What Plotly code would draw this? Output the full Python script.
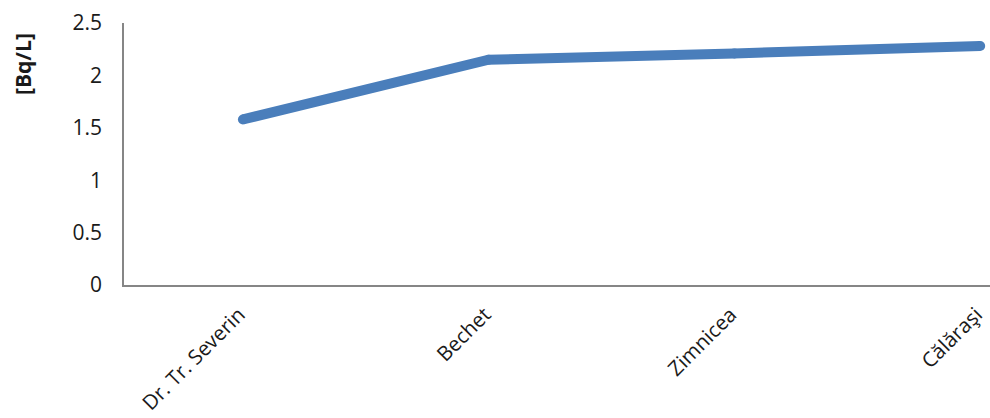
import plotly.graph_objects as go

# Measured concentrations per sampling site
sites = ["Dr. Tr. Severin", "Bechet", "Zimnicea", "Călăraşi"]
activity = [1.58, 2.15, 2.21, 2.28]
y_ticks = [0, 0.5, 1, 1.5, 2, 2.5]
y_tick_labels = ["0", "0.5", "1", "1.5", "2", "2.5"]

LINE_COLOR = "#4A7EBB"
AXIS_COLOR = "#868686"
TEXT_COLOR = "#1a1a1a"
FONT = "Open Sans"

fig = go.Figure()
fig.add_trace(go.Scatter(
    x=list(range(len(sites))),
    y=activity,
    mode="lines+markers",
    line=dict(color=LINE_COLOR, width=10),
    marker=dict(color=LINE_COLOR, size=10),
    cliponaxis=False,
    hoverinfo="skip",
))

fig.update_layout(
    width=990,
    height=418,
    margin=dict(l=124, r=0, t=23, b=133),
    paper_bgcolor="white",
    plot_bgcolor="white",
    showlegend=False,
    font=dict(family=FONT, color=TEXT_COLOR, size=21),
    xaxis=dict(
        range=[-0.484, 3.04],
        tickmode="array",
        tickvals=list(range(len(sites))),
        ticktext=[s + "\u00a0" for s in sites],
        tickangle=-45,
        showgrid=False,
        zeroline=False,
        showline=True,
        linecolor=AXIS_COLOR,
        linewidth=1.5,
        ticks="",
        automargin=False,
        ticklabelstandoff=4,
        ticklabeloverflow="allow",
        tickfont=dict(family=FONT, size=20.5, color=TEXT_COLOR),
    ),
    yaxis=dict(
        range=[0, 2.5],
        tickmode="array",
        tickvals=y_ticks,
        ticktext=y_tick_labels,
        showgrid=False,
        zeroline=False,
        showline=True,
        linecolor=AXIS_COLOR,
        linewidth=1.5,
        ticks="",
        automargin=False,
        ticklabelstandoff=16,
        tickfont=dict(family=FONT, size=21, color=TEXT_COLOR),
    ),
)

fig.add_annotation(
    text="<b>[Bq/L]</b>",
    xref="paper", yref="paper",
    x=(23 - 124) / 866, y=1 - (64 - 23) / 262,
    xanchor="center", yanchor="middle",
    textangle=-90,
    showarrow=False,
    font=dict(size=21, color=TEXT_COLOR, family=FONT),
)

fig.write_html("out.html")
